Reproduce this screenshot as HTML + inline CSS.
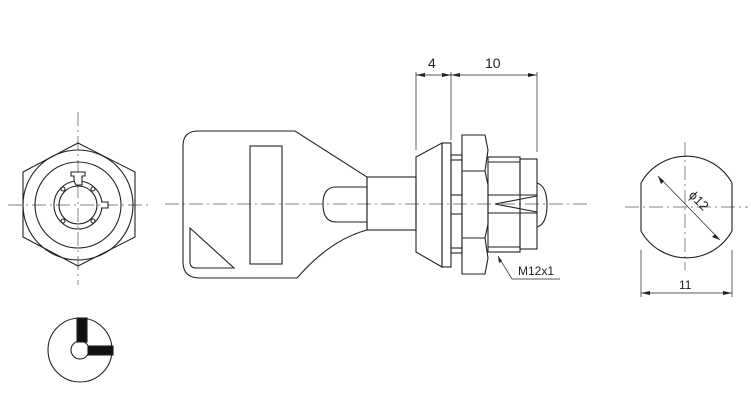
<!DOCTYPE html>
<html><head><meta charset="utf-8"><style>html,body{margin:0;padding:0;background:#fff}svg{display:block}</style></head><body>
<svg width="751" height="401" viewBox="0 0 751 401" xmlns="http://www.w3.org/2000/svg" font-family="Liberation Sans, Arial, sans-serif">
<g fill="none" stroke="#222" stroke-width="1.1">
<!-- center lines -->
<g stroke-width="0.7" stroke-dasharray="14,4,2,4" stroke="#555">
<line x1="8" y1="205" x2="148" y2="205"/><line x1="78" y1="112" x2="78" y2="285"/>
<line x1="165" y1="204" x2="590" y2="204"/>
<line x1="625" y1="207" x2="748" y2="207"/><line x1="685" y1="142" x2="685" y2="270"/>
</g>
<!-- hex view -->
<polygon points="78,143 135,172 135,237 78,266 23,237 23,172"/>
<circle cx="78" cy="205" r="55"/>
<circle cx="78" cy="205" r="43"/>
<circle cx="78" cy="205" r="24"/>
<circle cx="78" cy="205" r="19"/>
<path d="M74,181 v-5 h-3 v-4 h14 v4 h-3 v9 h-6 z" fill="#fff"/>
<path d="M101,202 h7 v6 h-7" fill="#fff"/>
<circle cx="63" cy="189" r="2"/><circle cx="93" cy="189" r="2"/><circle cx="63" cy="221" r="2"/><circle cx="93" cy="221" r="2"/>
<!-- small key face -->
<circle cx="80" cy="350" r="32"/>
<circle cx="80" cy="350" r="9"/>
<rect x="77" y="318" width="10" height="24" fill="#111"/>
<rect x="88" y="346" width="25" height="9" fill="#111"/>
<!-- key -->
<path d="M198,131 H295 L367,177 V230 Q330,240 297,278 H200 Q183,278 183,262 V146 Q183,131 198,131 Z"/>
<rect x="250" y="146" width="32" height="118"/>
<path d="M190,228 L234,268 H196 Q190,268 190,262 Z"/>
<path d="M367,187 H336 Q323,187 323,204 Q323,222 336,222 H367"/>
<rect x="367" y="177" width="49" height="53"/>
<!-- lock body -->
<path d="M416,157 L442,143 V267 L416,252 Z"/>
<rect x="442" y="143" width="9" height="124"/>
<rect x="451" y="155" width="11" height="98"/>
<line x1="451" y1="160" x2="462" y2="160"/><line x1="451" y1="248" x2="462" y2="248"/>
<line x1="451" y1="195" x2="462" y2="195"/><line x1="451" y1="214" x2="462" y2="214"/>
<path d="M462,135 H485 L488,150 L485,171 L488,185 V224 L485,238 L488,258 L485,274 H462 Z"/>
<line x1="462" y1="171" x2="485" y2="171"/><line x1="462" y1="238" x2="485" y2="238"/>
<rect x="488" y="157" width="32" height="95"/>
<line x1="488" y1="162" x2="520" y2="162"/><line x1="488" y1="247" x2="520" y2="247"/>
<line x1="488" y1="195" x2="537" y2="195"/><line x1="488" y1="213" x2="537" y2="213"/>
<path d="M495,204 L537,196 M495,204 L537,212"/>
<rect x="520" y="159" width="17" height="90"/>
<path d="M537,183 Q547,186 547,205 Q547,224 537,227"/>
<!-- dims -->
<g stroke-width="0.7">
<line x1="416" y1="72" x2="416" y2="150"/><line x1="451" y1="72" x2="451" y2="140"/><line x1="537" y1="72" x2="537" y2="152"/>
<line x1="416" y1="75" x2="537" y2="75"/>
<path d="M498,256 L512,279 H560"/>
<line x1="641" y1="250" x2="641" y2="297"/><line x1="732" y1="250" x2="732" y2="297"/>
<line x1="641" y1="293" x2="732" y2="293"/>
<line x1="658" y1="176" x2="720" y2="240"/>
</g>
<!-- right view -->
<path d="M641,183 A52,52 0 0 1 732,183 V231 A52,52 0 0 1 641,231 Z"/>
</g>
<g fill="#222">
<path d="M416,75 l9,-2 v4 z M451,75 l-9,-2 v4 z M451,75 l9,-2 v4 z M537,75 l-9,-2 v4 z"/>
<path d="M641,293 l9,-2 v4 z M732,293 l-9,-2 v4 z"/>
<path d="M658,176 l3,8 l3,-3 z M720,240 l-8,-3 l3,-3 z"/>
<path d="M498,256 l1,7 l3,-2 z"/>
</g>
<g fill="#222" font-size="14">
<text x="428" y="68">4</text><text x="485" y="68">10</text>
<text x="679" y="289" font-size="12">11</text>
<text x="518" y="275" font-size="12">M12x1</text>
<text x="0" y="0" font-size="13" transform="translate(688,196) rotate(45)">ϕ12</text>
</g>
</svg>
</body></html>
